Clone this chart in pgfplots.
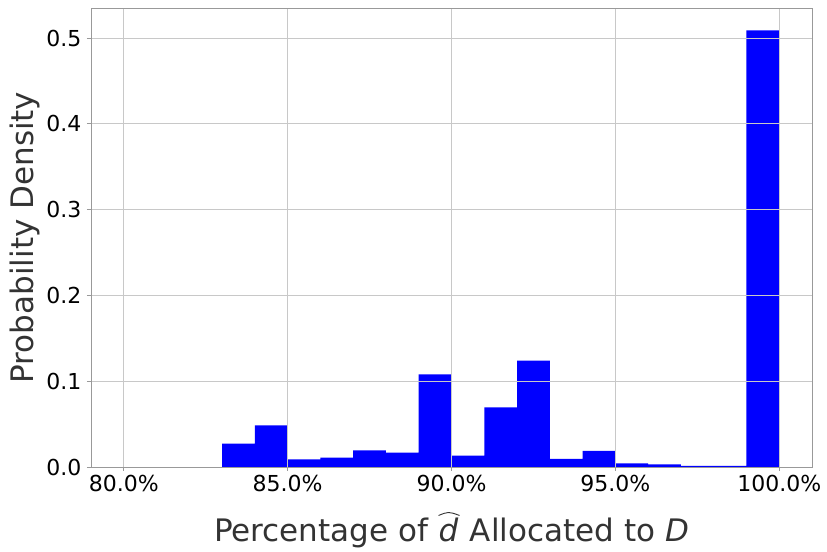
\documentclass[border=0pt]{standalone}
\usepackage{fontspec}
\setmainfont{DejaVu Sans}
\usepackage{pgfplots}
\pgfplotsset{compat=1.18}
\definecolor{gridgray}{HTML}{C8C8C8}
\definecolor{framegray}{HTML}{999999}
\definecolor{labgray}{HTML}{333333}
\newcommand\hatd{\tikz[baseline=(d.base)]{\node[inner sep=0pt,text=labgray](d){\itshape d};
  \draw[labgray, line width=0.9pt] ([xshift=0pt,yshift=2pt]d.north west) .. controls ([yshift=6pt]d.north) .. ([xshift=1pt,yshift=2pt]d.north east);}}
\begin{document}
\begin{tikzpicture}
\begin{axis}[
  scale only axis,
  width=721pt, height=459pt,
  xmin=79, xmax=101, ymin=0, ymax=0.535,
  xtick={80,85,90,95,100},
  xticklabels={80.0\%,85.0\%,90.0\%,95.0\%,100.0\%},
  ytick={0,0.1,0.2,0.3,0.4,0.5},
  yticklabels={0.0,0.1,0.2,0.3,0.4,0.5},
  tick label style={font=\fontsize{22}{26}\selectfont, black},
  label style={font=\fontsize{31}{36}\selectfont, text=labgray},
  xlabel={Percentage of \hatd{} Allocated to \textit{D}},
  ylabel={Probability Density},
  grid=major,
  major grid style={gridgray, line width=0.8pt},
  axis line style={framegray, line width=0.8pt},
  tick style={framegray, line width=0.8pt},
  tick align=outside,
  major tick length=4pt,
  xtick pos=bottom, ytick pos=left,
  axis on top,
  xticklabel style={yshift=-1pt},
  yticklabel style={xshift=-2pt},
  xlabel style={yshift=-12pt},
  ylabel style={yshift=0pt},
]
\addplot[ybar interval, fill=blue, draw=none] coordinates {
(83,0.0273) (84,0.0484) (85,0.0089) (86,0.0109) (87,0.0195) (88,0.0168)
(89,0.108) (90,0.0132) (91,0.0695) (92,0.124) (93,0.0094) (94,0.0188)
(95,0.0043) (96,0.0032) (97,0.0012) (98,0.0012) (99,0.509) (100,0.509)
};
\end{axis}
\path (current axis.south west) ++(-91pt,-76pt) (current axis.north east) ++(15pt,8pt);
\end{tikzpicture}
\end{document}
